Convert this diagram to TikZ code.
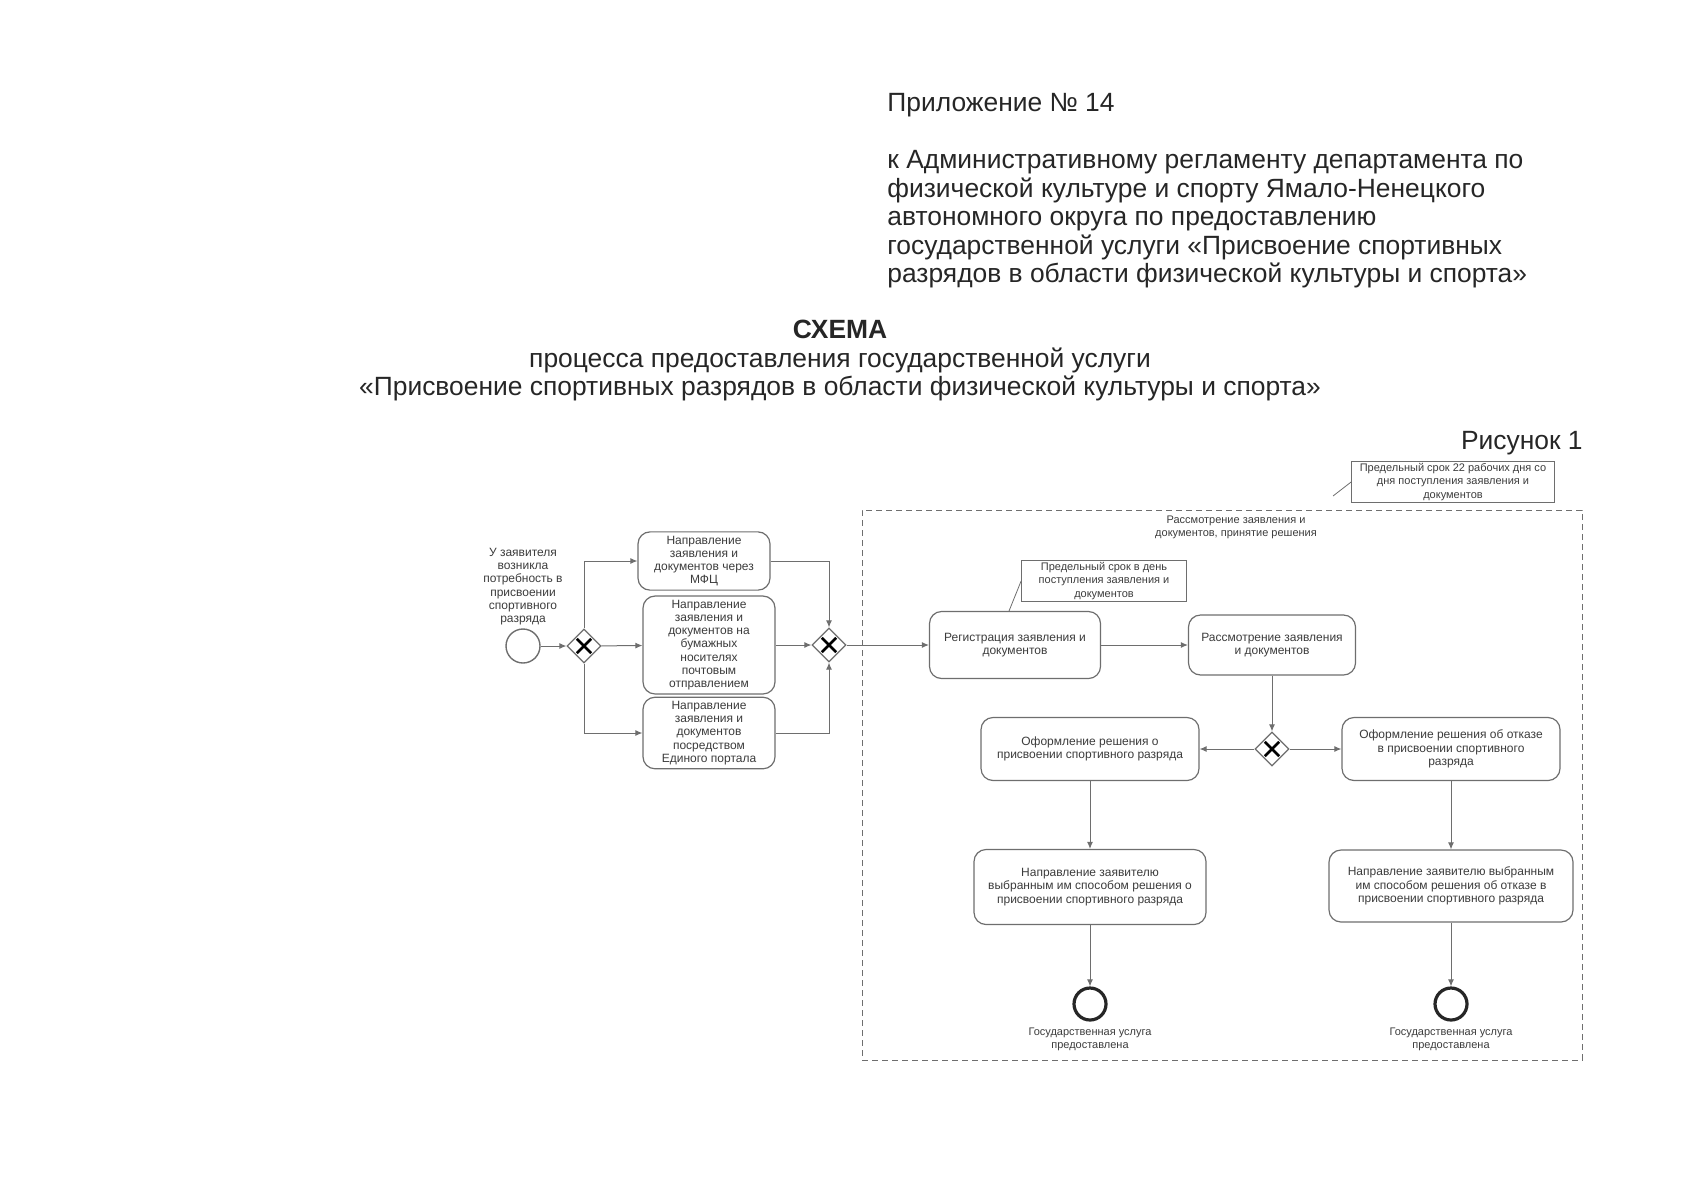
\documentclass[tikz,border=0pt]{standalone}
\usepackage{fontspec}
\setmainfont{Liberation Sans}
\usepackage{tikz}
\usetikzlibrary{arrows.meta,positioning,shapes.geometric}
\definecolor{lineg}{RGB}{110,110,110}
\definecolor{textg}{RGB}{60,60,60}

\begin{document}
\begin{tikzpicture}[
    x=0.5pt, y=-0.5pt,
    font=\fontsize{5.5}{6.6}\selectfont,
    task/.style={draw=lineg, rounded corners=6pt, align=center, text=textg,
                 font=\fontsize{6}{6.6}\selectfont,
                 line width=0.6pt, fill=white, inner sep=2pt},
    gate/.style={diamond, draw=lineg, fill=white, minimum size=17pt, inner sep=0pt,
                 line width=0.6pt,
                 path picture={\draw[line width=1.3pt, black]
                   (path picture bounding box.center) ++(-3.6pt,-3.6pt) -- ++(7.2pt,7.2pt)
                   ++(0,-7.2pt) -- ++(-7.2pt,7.2pt);}},
    ev/.style={circle, draw=lineg, line width=0.7pt, minimum size=17pt, inner sep=0pt},
    endev/.style={circle, draw=black!85, line width=1.6pt, minimum size=16pt, inner sep=0pt},
    lbl/.style={align=center, text=textg, inner sep=0pt},
    note/.style={draw=lineg, line width=0.4pt, align=center, text=textg, inner sep=1pt},
    grp/.style={draw=lineg, dash pattern=on 3pt off 2pt, line width=0.5pt},
    head/.style={font=\fontsize{13.2}{14.25}\selectfont, text=black!85, inner sep=0pt},
    arr/.style={-{Latex[length=3.5pt,width=3pt]}, line width=0.5pt, lineg}
  ]
  \useasboundingbox (0,0) rectangle (1696,1200);

  % heading
  \node[head, anchor=west] (app) at (887,105) {Приложение № 14};
  \node[head, anchor=north west, align=left] (reg) at (887,150)
    {к Административному регламенту департамента по\\
     физической культуре и спорту Ямало-Ненецкого\\
     автономного округа по предоставлению\\
     государственной услуги «Присвоение спортивных\\
     разрядов в области физической культуры и спорта»};
  \node[head, anchor=north, align=center] (ttl) at (840,320)
    {\textbf{СХЕМА}\\
     процесса предоставления государственной услуги\\
     «Присвоение спортивных разрядов в области физической культуры и спорта»};
  \node[head, anchor=east] (fig) at (1583,443) {Рисунок 1};

  % pool
  \node[grp, minimum width=360pt, minimum height=275pt] (pool) at (1222,785) {};
  \node[lbl] (pooll) at (1236,527) {Рассмотрение заявления и\\документов, принятие решения};

  % submission
  \node[ev] (st) at (523,646) {};
  \node[lbl, above=1.5pt of st, font=\fontsize{6}{6.6}\selectfont] (stl)
    {У заявителя\\возникла\\потребность в\\присвоении\\спортивного\\разряда};
  \node[gate] (g1) at (584,646) {};
  \node[task, minimum width=66pt, minimum height=29pt] (mfc) at (704,561)
    {Направление\\заявления и\\документов через\\МФЦ};
  \node[task, minimum width=66pt, minimum height=45pt] (post) at (709,645)
    {Направление\\заявления и\\документов на\\бумажных\\носителях\\почтовым\\отправлением};
  \node[task, minimum width=66pt, minimum height=34pt] (epgu) at (709,733)
    {Направление\\заявления и\\документов\\посредством\\Единого портала};
  \node[gate] (g2) at (829,645) {};

  % review
  \node[task, minimum width=85.5pt, minimum height=33.5pt] (rg) at (1015,645)
    {Регистрация заявления и\\документов};
  \node[task, minimum width=83.5pt, minimum height=30pt] (rv) at (1272,645)
    {Рассмотрение заявления\\и документов};
  \node[note, minimum width=82.5pt, minimum height=17pt] (nrg) at (1104,581)
    {Предельный срок в день\\поступления заявления и\\документов};
  \coordinate (nrge) at (1009,611);
  \node[note, minimum width=101.5pt, minimum height=18pt] (n22) at (1453,482)
    {Предельный срок 22 рабочих дня со\\дня поступления заявления и\\документов};
  \coordinate (n22e) at (1333,496);
  \node[gate] (g3) at (1272,749) {};
  \node[task, minimum width=109pt, minimum height=31.5pt] (dy) at (1090,749)
    {Оформление решения о\\присвоении спортивного разряда};
  \node[task, minimum width=109pt, minimum height=31.5pt] (dn) at (1451,749)
    {Оформление решения об отказе\\в присвоении спортивного\\разряда};
  \node[task, minimum width=116pt, minimum height=37.5pt] (sy) at (1090,887)
    {Направление заявителю\\выбранным им способом решения о\\присвоении спортивного разряда};
  \node[task, minimum width=122pt, minimum height=36pt] (sn) at (1451,886)
    {Направление заявителю выбранным\\им способом решения об отказе в\\присвоении спортивного разряда};
  \node[endev] (e1) at (1090,1004) {};
  \node[endev] (e2) at (1451,1004) {};
  \node[lbl, below=3pt of e1] (e1l) {Государственная услуга\\предоставлена};
  \node[lbl, below=3pt of e2] (e2l) {Государственная услуга\\предоставлена};

  % flows
  \draw[arr] (st) -- (g1);
  \draw[arr] (g1.north) |- (mfc.west);
  \draw[arr] (g1) -- (post);
  \draw[arr] (g1.south) |- (epgu.west);
  \draw[arr] (mfc.east) -| (g2.north);
  \draw[arr] (post) -- (g2);
  \draw[arr] (epgu.east) -| (g2.south);
  \draw[arr] (g2) -- (rg);
  \draw[arr] (rg) -- (rv);
  \draw[arr] (rv) -- (g3);
  \draw[arr] (g3) -- (dy);
  \draw[arr] (g3) -- (dn);
  \draw[arr] (dy) -- (sy);
  \draw[arr] (dn) -- (sn);
  \draw[arr] (sy) -- (e1);
  \draw[arr] (sn) -- (e2);
  \draw[lineg, line width=0.4pt] (nrg.west) -- (nrge);
  \draw[lineg, line width=0.4pt] (n22.west) -- (n22e);
\end{tikzpicture}
\end{document}
